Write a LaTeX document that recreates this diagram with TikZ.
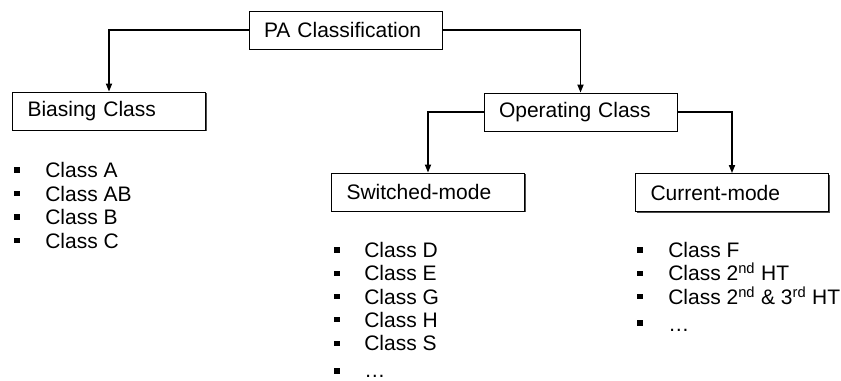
\documentclass[tikz,border=0pt]{standalone}
\usepackage{fontspec}
\setmainfont{Liberation Sans}
\usetikzlibrary{arrows.meta,shadows}

\tikzset{
  classbox/.style={draw, line width=0.7pt, fill=white, text width=122.25pt,
    align=left, inner xsep=11.25pt, inner ysep=0pt, minimum height=28.5pt,
    drop shadow={shadow xshift=1.1pt, shadow yshift=-1.1pt, fill=black!70, opacity=1}},
  bullet/.style={fill=black, inner sep=0pt, minimum size=3.8pt},
  item/.style={anchor=base west, inner sep=0pt},
  link/.style={->, line width=1pt},
}

\begin{document}
\begin{tikzpicture}[x=0.75pt, y=-0.75pt, >={Triangle[length=6pt, width=4.6pt]},
    font=\fontsize{15.75}{19}\selectfont]
    \useasboundingbox (0,0) rectangle (841,380);
    \clip (0,0) rectangle (841,380);

    % class boxes
    \node[classbox] (pa) at (345.5,30) {PA Classification};
    \node[classbox] (bias) at (109,111) {Biasing Class};
    \node[classbox] (oper) at (580.5,112) {Operating Class};
    \node[classbox] (switch) at (428,192) {Switched-mode};
    \node[classbox] (current) at (732,192.5) {Current-mode};

    % connectors
    \draw[link] (pa.west) -| (bias.north);
    \draw[link] (pa.east) -| (oper.north);
    \draw[link] (oper.west) -| (switch.north);
    \draw[link] (oper.east) -| (current.north);

    % biasing classes
    \foreach \txt [count=\i] in {Class A, Class AB, Class B, Class C} {
        \node[bullet] (bias-b\i) at (17, 146.5+23.5*\i) {};
        \node[item] (bias-t\i) at (45, 154+23.5*\i) {\txt};
    }

    % switched-mode classes
    \foreach \txt [count=\i] in {Class D, Class E, Class G, Class H, Class S} {
        \node[bullet] (sw-b\i) at (337, 226.7+23.3*\i) {};
        \node[item] (sw-t\i) at (364, 234.2+23.3*\i) {\txt};
    }
    \node[bullet] (sw-b6) at (337, 371) {};
    \node[item] (sw-t6) at (364, 377.5) {\dots};

    % current-mode classes
    \foreach \txt [count=\i] in {Class F, Class 2\textsuperscript{nd} HT,
        Class 2\textsuperscript{nd} \& 3\textsuperscript{rd} HT} {
        \node[bullet] (cur-b\i) at (640, 226.7+23.3*\i) {};
        \node[item] (cur-t\i) at (668, 234.2+23.3*\i) {\txt};
    }
    \node[bullet] (cur-b4) at (640, 323) {};
    \node[item] (cur-t4) at (668, 331) {\dots};
\end{tikzpicture}
\end{document}
